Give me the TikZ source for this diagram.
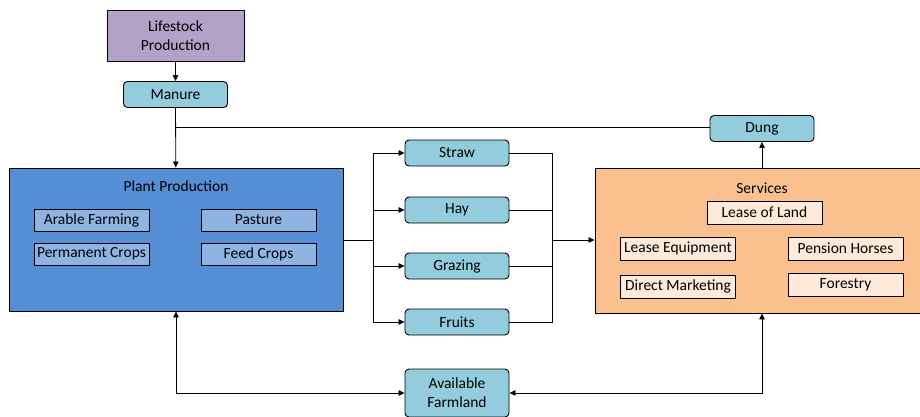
\documentclass[tikz,border=0pt]{standalone}
\usepackage{fontspec}
\setmainfont{Carlito}
\usetikzlibrary{arrows.meta}

\definecolor{lifestock}{RGB}{179,162,199}
\definecolor{product}{RGB}{147,205,221}
\definecolor{plantbg}{RGB}{85,142,213}
\definecolor{plantin}{RGB}{142,180,227}
\definecolor{servbg}{RGB}{250,192,144}
\definecolor{servin}{RGB}{253,234,218}

\tikzset{
    box/.style={draw=black, line width=0.9pt, inner sep=0pt, align=center,
        font=\fontsize{15.5}{19}\selectfont},
    prodbox/.style={box, fill=product, rounded corners=4pt,
        minimum width=104pt, minimum height=26pt},
    plantitem/.style={box, fill=plantin, minimum width=115pt, minimum height=22pt},
    servitem/.style={box, fill=servin, minimum width=115pt, minimum height=23pt},
    arr/.style={line width=0.8pt, -{Triangle[length=6pt,width=5.5pt]}},
    line/.style={line width=0.8pt},
}

\begin{document}
\begin{tikzpicture}[x=1pt,y=-1pt]
    \useasboundingbox (0,0) rectangle (920,416);

    % Allevamento e letame
    \node[box, fill=lifestock, minimum width=137pt, minimum height=51pt] (lifestock) at (175.5,35.5) {Lifestock\\Production};
    \node[prodbox] (manure) at (175.5,94.5) {Manure};

    % Produzione vegetale
    \node[box, fill=plantbg, minimum width=334pt, minimum height=143pt] (plant) at (176,239.5) {};
    \node[font=\fontsize{15.5}{19}\selectfont] (planttitle) at (176,186) {Plant Production};
    \node[plantitem] (arable) at (91.5,220) {Arable Farming};
    \node[plantitem] (pasture) at (258.5,220) {Pasture};
    \node[plantitem] (permanent) at (91.5,254) {Permanent Crops};
    \node[plantitem] (feed) at (258.5,254) {Feed Crops};

    % Prodotti intermedi
    \node[prodbox] (straw) at (457,153) {Straw};
    \node[prodbox] (hay) at (457,210) {Hay};
    \node[prodbox] (grazing) at (457,266) {Grazing};
    \node[prodbox] (fruits) at (457,322) {Fruits};

    % Servizi
    \node[box, fill=servbg, minimum width=325pt, minimum height=145pt] (services) at (757.5,240.5) {};
    \node[font=\fontsize{15.5}{19}\selectfont] (servtitle) at (762,188) {Services};
    \node[servitem] (leaseland) at (764.5,212.5) {Lease of Land};
    \node[servitem] (leaseequip) at (678,248.5) {Lease Equipment};
    \node[servitem] (horses) at (845.5,248.5) {Pension Horses};
    \node[servitem] (marketing) at (678,286.5) {Direct Marketing};
    \node[servitem] (forestry) at (845.5,284.5) {Forestry};

    \node[prodbox] (dung) at (762,128.5) {Dung};
    \node[prodbox, minimum height=48pt] (farmland) at (457,393) {Available\\Farmland};

    % Collegamenti
    \coordinate (junction) at (176,127.5);
    \coordinate (split) at (373,240);
    \coordinate (merge) at (552,240);
    \draw[arr] (lifestock) -- (manure);
    \draw[arr] (manure) -- (plant);
    \draw[line] (junction) -- (junction -| dung.west);
    \draw[arr] (dung.south |- services.north) -- (dung.south);

    \draw[line] (plant.east |- split) -- (split);
    \foreach \p in {straw,hay,grazing,fruits}{
        \draw[arr] (split) |- (\p.west);
        \draw[line] (\p.east) -| (merge);
    }
    \draw[arr] (merge) -- (services.west |- merge);

    \draw[arr, {Triangle[length=6pt,width=5.5pt]}-{Triangle[length=6pt,width=5.5pt]}] (plant.south) |- (farmland.west);
    \draw[arr, {Triangle[length=6pt,width=5.5pt]}-{Triangle[length=6pt,width=5.5pt]}] (dung.south |- services.south) |- (farmland.east);
\end{tikzpicture}
\end{document}
